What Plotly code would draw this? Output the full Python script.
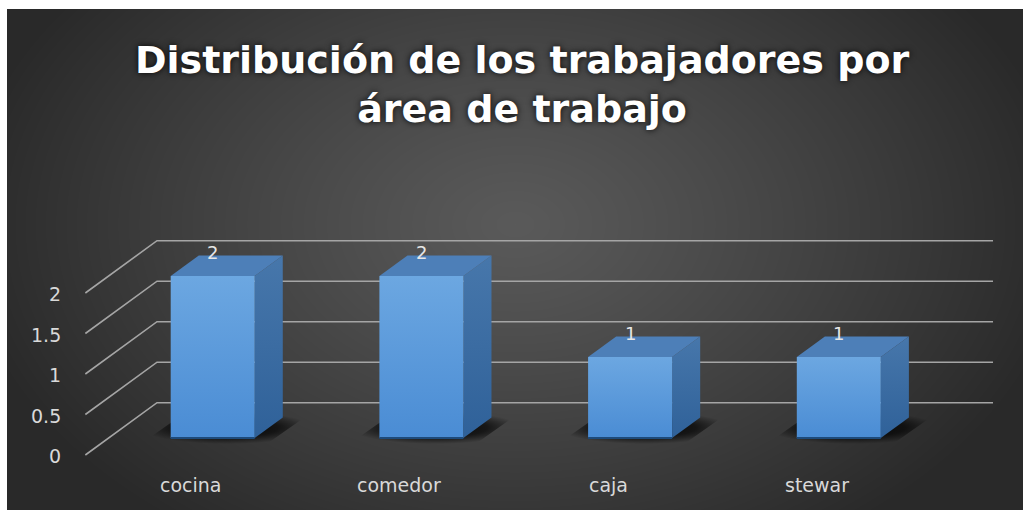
import zlib, struct, base64
import numpy as np
import plotly.graph_objects as go

# ---------------- data ----------------
categories = ["cocina", "comedor", "caja", "stewar"]
values = [2, 2, 1, 1]
tick_values = [0, 0.5, 1, 1.5, 2]
tick_labels = ["0", "0.5", "1", "1.5", "2"]
title_text = "Distribución de los trabajadores por<br>área de trabajo"

# ---------------- layout geometry ----------------
W, H = 1023, 510
ML, MT = 7, 9                   # white border of the picture
PW, PH = W - ML, H - MT
PX_X = 208.7                    # px per category step
PX_Y = 81.0                     # px per value unit
CAT0_PX = 212.7                 # px of first category centre
ZERO_PY = 438.0                 # px of value 0 on the bars' front face
xr0 = -(CAT0_PX - ML) / PX_X
xr1 = xr0 + PW / PX_X
yr0 = -(H - ZERO_PY) / PX_Y
yr1 = yr0 + PH / PX_Y

SLANT = 1.37                    # oblique projection: px right per px of depth


def depth(d_px):
    """shift (dx, dy) in data units for going d_px 'into' the chart"""
    return d_px * SLANT / PX_X, d_px / PX_Y


HALF_W = 42 / PX_X
BAR_DEPTH = 20.5
WALL_DEPTH = 35.3
FLOOR_FRONT = -17.0
GRID_LEFT_BACK = (157 - CAT0_PX) / PX_X
GRID_RIGHT = (993 - CAT0_PX) / PX_X


# ---------------- background gradient image ----------------
def make_png(arr):
    h, w = arr.shape
    raw = b"".join(b"\x00" + arr[r].tobytes() for r in range(h))

    def chunk(t, d):
        return struct.pack(">I", len(d)) + t + d + struct.pack(">I", zlib.crc32(t + d) & 0xFFFFFFFF)

    return (b"\x89PNG\r\n\x1a\n" + chunk(b"IHDR", struct.pack(">IIBBBBB", w, h, 8, 0, 0, 0, 0))
            + chunk(b"IDAT", zlib.compress(raw, 9)) + chunk(b"IEND", b""))


yy, xx = np.mgrid[0:PH, 0:PW].astype(float)
cx, cy = 508.0, 215.0
rx, ry = 560.0, 380.0
r = np.sqrt(((xx - cx) / rx) ** 2 + ((yy - cy) / ry) ** 2)
r = np.clip(r, 0, 1)
g = 0x29 + (0x5a - 0x29) * (1 - r ** 1.15)
bg = np.clip(g, 0, 255).astype(np.uint8)
bg_src = "data:image/png;base64," + base64.b64encode(make_png(bg)).decode()

fig = go.Figure()

# ---------------- gridlines (slanted floor/wall lines) ----------------
fdx, fdy = depth(FLOOR_FRONT)
wdx, wdy = depth(WALL_DEPTH)
left_front = GRID_LEFT_BACK - (wdx - fdx)
for t in tick_values:
    fig.add_trace(go.Scatter(
        x=[left_front, GRID_LEFT_BACK, GRID_RIGHT],
        y=[t + fdy, t + wdy, t + wdy],
        mode="lines", line=dict(color="rgb(165,165,165)", width=1.6),
        hoverinfo="skip", showlegend=False))

# ---------------- 3D bars ----------------
bdx, bdy = depth(BAR_DEPTH)
for i, (cat, v) in enumerate(zip(categories, values)):
    xl, xr = i - HALF_W, i + HALF_W
    # floor shadow
    sdx, sdy = 30 / PX_X, 6 / PX_Y
    fig.add_trace(go.Scatter(
        x=[xl - sdx, xr + sdx * 0.4, xr + bdx + sdx, xl + bdx - sdx * 0.4, xl - sdx],
        y=[-sdy, -sdy, bdy + sdy, bdy + sdy, -sdy],
        mode="lines", line=dict(width=0), fill="toself",
        fillgradient=dict(type="radial", colorscale=[[0, "rgba(0,0,0,0.95)"], [0.6, "rgba(0,0,0,0.65)"],
                                                      [1, "rgba(0,0,0,0)"]]),
        hoverinfo="skip", showlegend=False))
    # side face
    fig.add_trace(go.Scatter(
        x=[xr, xr + bdx, xr + bdx, xr, xr],
        y=[0, bdy, v + bdy, v, 0],
        mode="lines", line=dict(width=0), fill="toself",
        fillgradient=dict(type="vertical", colorscale=[[0, "#2f6199"], [1, "#4777ab"]]),
        hoverinfo="skip", showlegend=False))
    # top face
    fig.add_trace(go.Scatter(
        x=[xl, xr, xr + bdx, xl + bdx, xl],
        y=[v, v, v + bdy, v + bdy, v],
        mode="lines", line=dict(width=0), fill="toself", fillcolor="#4d7fb8",
        hoverinfo="skip", showlegend=False))
    # front face
    fig.add_trace(go.Scatter(
        x=[xl, xr, xr, xl, xl],
        y=[0, 0, v, v, 0],
        mode="lines", line=dict(width=0), fill="toself",
        fillgradient=dict(type="vertical", colorscale=[[0, "#4a8cd4"], [1, "#6ca7e1"]]),
        hoverinfo="skip", showlegend=False))
    # bottom edge
    fig.add_trace(go.Scatter(
        x=[xl, xr], y=[0, 0], mode="lines", line=dict(color="#1d4a7a", width=2),
        hoverinfo="skip", showlegend=False))

annotations = []
# value labels
for i, v in enumerate(values):
    annotations.append(dict(x=i, y=v, xref="x", yref="y", text=str(v), showarrow=False,
                            yshift=24, font=dict(family="DejaVu Sans", size=18, color="#e6e6e6")))
# category labels
cat_y = -(485 - ZERO_PY) / PX_Y
for i, cat in enumerate(categories):
    annotations.append(dict(x=i - 22 / PX_X, y=cat_y, xref="x", yref="y", text=cat, showarrow=False,
                            font=dict(family="DejaVu Sans", size=19, color="#d9d9d9")))
# value-axis labels
for t, lab in zip(tick_values, tick_labels):
    annotations.append(dict(x=left_front - 22 / PX_X, y=t + fdy, xref="x", yref="y", text=lab,
                            showarrow=False, xanchor="right", yshift=-1,
                            font=dict(family="DejaVu Sans", size=19, color="#d9d9d9")))

fig.update_layout(
    width=W, height=H,
    margin=dict(l=ML, r=0, t=MT, b=0, pad=0),
    paper_bgcolor="white", plot_bgcolor="rgba(0,0,0,0)",
    showlegend=False,
    xaxis=dict(range=[xr0, xr1], visible=False, fixedrange=True),
    yaxis=dict(range=[yr0, yr1], visible=False, fixedrange=True),
    images=[dict(source=bg_src, xref="paper", yref="paper", x=0, y=1, sizex=1, sizey=1,
                 sizing="stretch", xanchor="left", yanchor="top", layer="below")],
    title=dict(text=title_text, x=0.507, xref="paper", xanchor="center",
               y=1 - 73 / H, yref="container", yanchor="middle",
               font=dict(family="DejaVu Sans", size=38, weight="bold", color="white",
                         shadow="0px 0px 6px rgba(0,0,0,0.9)")),
    annotations=annotations,
)

fig.write_html("out.html", config=dict(displayModeBar=False))
